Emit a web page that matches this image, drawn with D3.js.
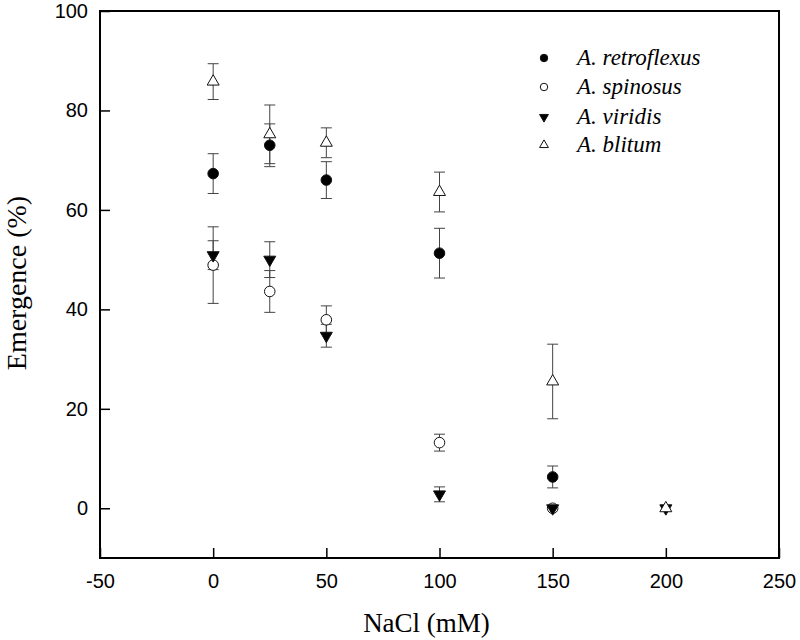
<!DOCTYPE html>
<html>
<head>
<meta charset="utf-8">
<script src="https://cdn.jsdelivr.net/npm/d3@7"></script>
<style>
  html, body { margin: 0; padding: 0; background: #fff; }
  svg { display: block; }
</style>
</head>
<body>
<svg id="chart" width="800" height="640"></svg>
<script>
const nacl = [0, 25, 50, 100, 150, 200];
const retroflexus    = [67.3, 73.0, 66.0, 51.3, 6.3, null];
const retroflexusErr = [4.0, 4.3, 3.7, 5.0, 2.2, null];
const spinosus       = [48.9, 43.6, 37.9, 13.2, 0, null];
const spinosusErr    = [7.7, 4.2, 2.8, 1.7, 0, null];
const viridis        = [50.9, 50.0, 34.7, 2.8, 0, 0];
const viridisErr     = [2.9, 3.6, 2.3, 1.5, 0, 0];
const blitum         = [85.8, 75.2, 73.5, 63.6, 25.5, 0];
const blitumErr      = [3.6, 5.9, 3.0, 4.0, 7.5, 0];

const seriesNames = ["A. retroflexus", "A. spinosus", "A. viridis", "A. blitum"];
const xTicks = [-50, 0, 50, 100, 150, 200, 250];
const yTicks = [0, 20, 40, 60, 80, 100];

const series = [
  { name: seriesNames[0], vals: retroflexus, errs: retroflexusErr, shape: d3.symbolCircle, fill: "#000", size: 88, lsize: 44, rot: 0 },
  { name: seriesNames[1], vals: spinosus, errs: spinosusErr, shape: d3.symbolCircle, fill: "#fff", size: 88, lsize: 44, rot: 0 },
  { name: seriesNames[2], vals: viridis, errs: viridisErr, shape: d3.symbolTriangle, fill: "#000", size: 62, lsize: 34, rot: 180 },
  { name: seriesNames[3], vals: blitum, errs: blitumErr, shape: d3.symbolTriangle, fill: "#fff", size: 62, lsize: 34, rot: 0 }
];

const L = 100, R = 779, T = 11, B = 558;
const x = d3.scaleLinear().domain([-50, 250]).range([L, R]);
const y = d3.scaleLinear().domain([-10, 100]).range([B, T]);

const svg = d3.select("#chart");
const fmt = d => String(d);

// axes
const xAxis = d3.axisBottom(x).tickValues(xTicks).tickFormat(fmt).tickSizeInner(-10).tickSizeOuter(0).tickPadding(16);
const gx = svg.append("g").attr("transform", `translate(0,${B})`).call(xAxis);
const yAxis = d3.axisLeft(y).tickValues(yTicks).tickFormat(fmt).tickSizeInner(-10).tickSizeOuter(0).tickPadding(12);
const gy = svg.append("g").attr("transform", `translate(${L},0)`).call(yAxis);
[gx, gy].forEach(g => {
  g.select(".domain").remove();
  g.selectAll(".tick line").attr("stroke", "#000").attr("stroke-width", 1.5);
  g.selectAll(".tick text").attr("fill", "#000")
    .style("font-family", "'Liberation Sans', Arial, sans-serif").style("font-size", "20px");
});

// frame
svg.append("rect").attr("x", L).attr("y", T).attr("width", R - L).attr("height", B - T)
  .attr("fill", "none").attr("stroke", "#000").attr("stroke-width", 2);

// axis titles
svg.append("text").attr("x", 426.5).attr("y", 632).attr("text-anchor", "middle")
  .style("font-family", "'Liberation Serif', 'Times New Roman', serif").style("font-size", "27px")
  .text("NaCl (mM)");
svg.append("text").attr("transform", "translate(26,283) rotate(-90)").attr("text-anchor", "middle")
  .style("font-family", "'Liberation Serif', 'Times New Roman', serif").style("font-size", "28px")
  .text("Emergence (%)");

// error bars
const capW = 5.5;
series.forEach(s => {
  const g = svg.append("g");
  nacl.forEach((xv, i) => {
    const v = s.vals[i], e = s.errs[i];
    if (v == null || !e) return;
    const cx = x(xv), y1 = y(v + e), y2 = y(v - e);
    g.append("line").attr("x1", cx).attr("x2", cx).attr("y1", y1).attr("y2", y2)
      .attr("stroke", "#444").attr("stroke-width", 1);
    [y1, y2].forEach(yy => g.append("line").attr("x1", cx - capW).attr("x2", cx + capW)
      .attr("y1", yy).attr("y2", yy).attr("stroke", "#444").attr("stroke-width", 1));
  });
});

// markers
series.forEach(s => {
  const sym = d3.symbol().type(s.shape).size(s.size);
  svg.append("g").selectAll("path")
    .data(nacl.map((xv, i) => ({ x: xv, v: s.vals[i] })).filter(d => d.v != null))
    .join("path")
    .attr("d", sym)
    .attr("transform", d => `translate(${x(d.x)},${y(d.v)}) rotate(${s.rot})`)
    .attr("fill", s.fill).attr("stroke", "#111").attr("stroke-width", 1);
});

// legend
const legY = [58, 87, 117, 145];
const leg = svg.append("g");
series.forEach((s, i) => {
  leg.append("path").attr("d", d3.symbol().type(s.shape).size(s.lsize))
    .attr("transform", `translate(544,${legY[i]}) rotate(${s.rot})`)
    .attr("fill", s.fill).attr("stroke", "#111").attr("stroke-width", 1);
  leg.append("text").attr("x", 577).attr("y", legY[i] + 7)
    .style("font-family", "'Liberation Serif', 'Times New Roman', serif")
    .style("font-size", "23px").style("font-style", "italic")
    .text(s.name);
});
</script>
</body>
</html>
